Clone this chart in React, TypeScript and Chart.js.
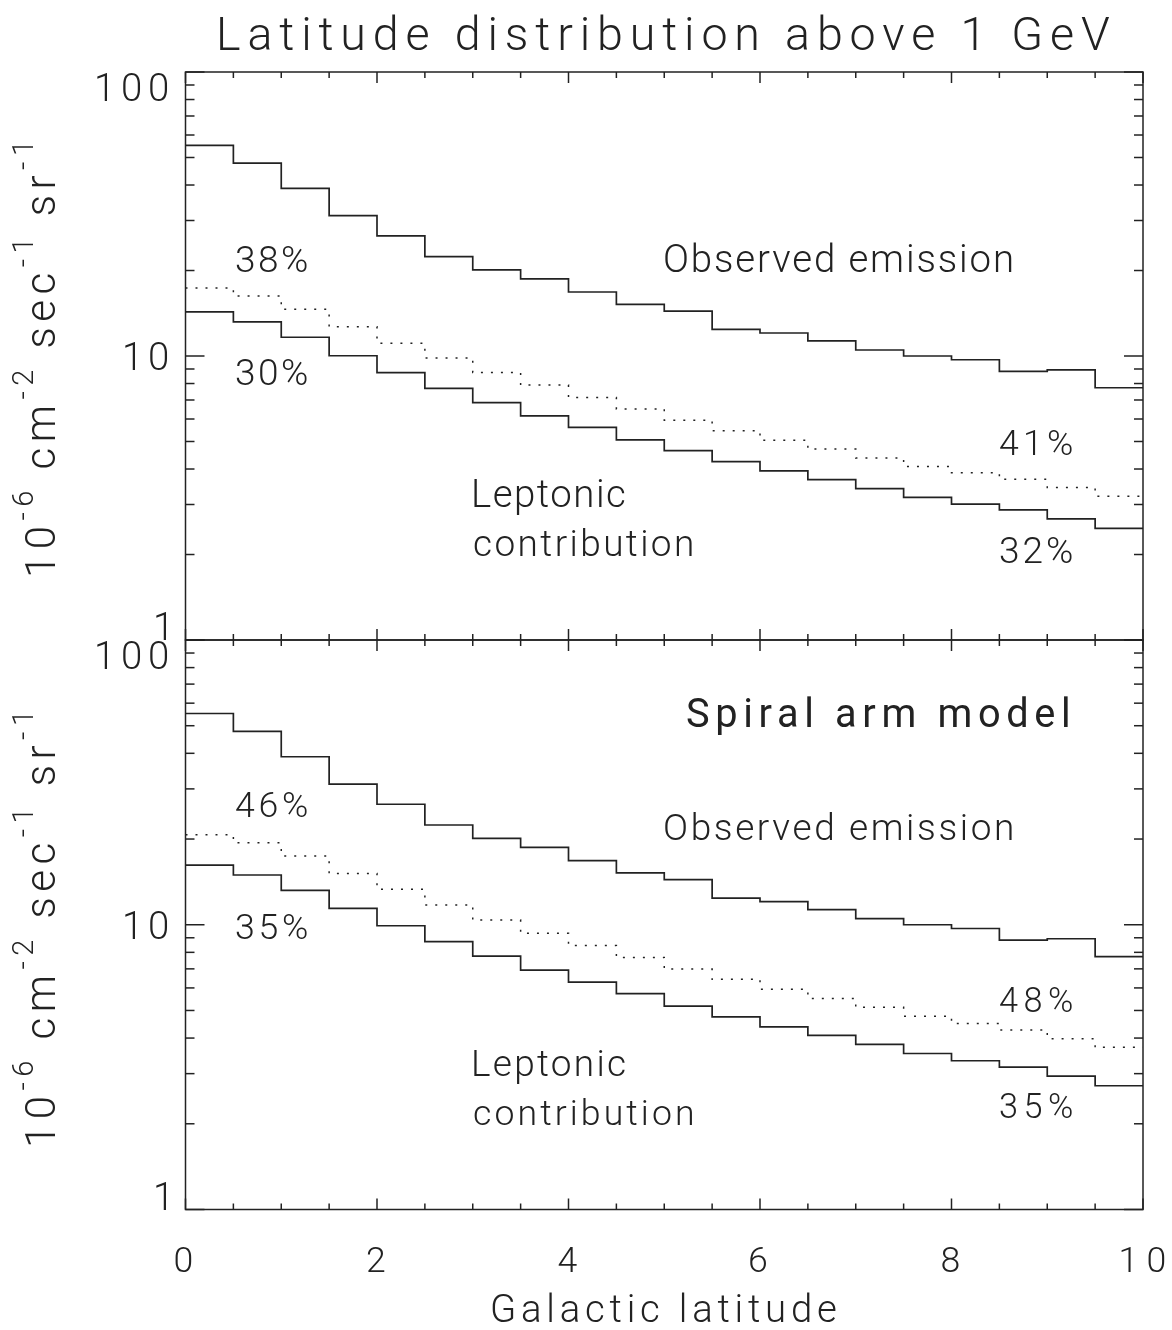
import { useEffect, useRef } from 'react';
import { Chart, registerables } from 'chart.js';

Chart.register(...registerables);

// ---------------- data ----------------
const latitudeEdges = [0, 0.5, 1, 1.5, 2, 2.5, 3, 3.5, 4, 4.5, 5, 5.5, 6, 6.5, 7, 7.5, 8, 8.5, 9, 9.5, 10];

const observedEmission = [55.2, 47.8, 38.9, 31.2, 26.5, 22.4, 20.1, 18.7, 16.8, 15.2, 14.4, 12.4, 12.05, 11.3, 10.5, 10.0, 9.7, 8.83, 8.93, 7.73];

const standardTotal = [17.35, 16.27, 14.6, 12.68, 11.1, 9.84, 8.74, 7.9, 7.15, 6.51, 5.94, 5.45, 5.05, 4.7, 4.37, 4.08, 3.88, 3.68, 3.44, 3.21];
const standardLeptonic = [14.29, 13.18, 11.64, 10.02, 8.74, 7.69, 6.85, 6.15, 5.61, 5.07, 4.64, 4.25, 3.94, 3.67, 3.41, 3.18, 3.01, 2.87, 2.67, 2.47];

const spiralTotal = [20.7, 19.4, 17.43, 15.15, 13.32, 11.73, 10.39, 9.33, 8.46, 7.68, 6.99, 6.43, 5.93, 5.51, 5.13, 4.77, 4.5, 4.27, 3.98, 3.71];
const spiralLeptonic = [16.2, 14.95, 13.2, 11.42, 9.92, 8.72, 7.76, 6.93, 6.29, 5.73, 5.18, 4.75, 4.38, 4.09, 3.8, 3.53, 3.33, 3.16, 2.94, 2.72];

const xTickLabels = ['0', '2', '4', '6', '8', '10'];
const yTickLabels = ['1', '10', '100'];

const titleText = 'Latitude distribution above 1 GeV';
const xAxisTitle = 'Galactic latitude';

// ---------------- layout / style ----------------
const W = 1172;
const H = 1330;
const PLOT_LEFT = 185.5;
const PLOT_RIGHT = 1143;
const INK = '#222';
const FONT = "Roboto, 'DejaVu Sans', sans-serif";
const LIGHT = '300';

type Note = { text: string; x1: number; x2: number; base: number; cap: number; weight?: string };

const topNotes: Note[] = [
  { text: '38%', x1: 236, x2: 307, base: 272, cap: 27 },
  { text: '30%', x1: 236, x2: 307, base: 385, cap: 27 },
  { text: 'Observed emission', x1: 665, x2: 1012, base: 272, cap: 28 },
  { text: 'Leptonic', x1: 474, x2: 625, base: 507, cap: 28 },
  { text: 'contribution', x1: 474, x2: 692, base: 556, cap: 27 },
  { text: '41%', x1: 1000, x2: 1072, base: 455, cap: 26 },
  { text: '32%', x1: 1000, x2: 1072, base: 563, cap: 27 },
];

const bottomNotes: Note[] = [
  { text: 'Spiral arm model', x1: 687, x2: 1068, base: 727, cap: 29, weight: '400' },
  { text: '46%', x1: 236, x2: 307, base: 817, cap: 26 },
  { text: 'Observed emission', x1: 665, x2: 1012, base: 840, cap: 27 },
  { text: '35%', x1: 236, x2: 307, base: 939, cap: 26 },
  { text: 'Leptonic', x1: 474, x2: 625, base: 1076, cap: 27 },
  { text: 'contribution', x1: 474, x2: 692, base: 1125, cap: 26 },
  { text: '48%', x1: 1000, x2: 1072, base: 1012, cap: 25 },
  { text: '35%', x1: 1000, x2: 1072, base: 1118, cap: 25 },
];

type Panel = {
  key: string;
  top: number;
  bottom: number;
  total: number[];
  leptonic: number[];
  notes: Note[];
  titleCenter: number;
  showXLabels: boolean;
  showTitle: boolean;
};

const panels: Panel[] = [
  { key: 'standard', top: 72, bottom: 640, total: standardTotal, leptonic: standardLeptonic, notes: topNotes, titleCenter: 359, showXLabels: false, showTitle: true },
  { key: 'spiral', top: 640, bottom: 1209.5, total: spiralTotal, leptonic: spiralLeptonic, notes: bottomNotes, titleCenter: 929, showXLabels: true, showTitle: false },
];

// ---------------- helpers ----------------
function toSteps(values: number[]) {
  return latitudeEdges.map((x, i) => ({ x, y: values[Math.min(i, values.length - 1)] }));
}

function sizeForCap(ctx: CanvasRenderingContext2D, cap: number, weight: string) {
  ctx.font = `${weight} 100px ${FONT}`;
  const m = ctx.measureText('H0');
  const ratio = m.actualBoundingBoxAscent / 100 || 0.71;
  return cap / ratio;
}

function drawFit(ctx: CanvasRenderingContext2D, text: string, x1: number, x2: number, base: number, cap: number, weight = LIGHT) {
  const size = sizeForCap(ctx, cap, weight);
  ctx.font = `${weight} ${size}px ${FONT}`;
  (ctx as any).letterSpacing = '0px';
  const m = ctx.measureText(text);
  const ink = m.actualBoundingBoxLeft + m.actualBoundingBoxRight;
  const n = Array.from(text).length;
  const ls = n > 1 ? (x2 - x1 - ink) / (n - 1) : 0;
  (ctx as any).letterSpacing = `${ls}px`;
  ctx.textAlign = 'left';
  ctx.textBaseline = 'alphabetic';
  ctx.fillText(text, x1 + m.actualBoundingBoxLeft, base);
  (ctx as any).letterSpacing = '0px';
}

function drawYTitle(ctx: CanvasRenderingContext2D, cy: number) {
  const segs: [string, boolean][] = [
    ['10', false], ['-6', true], [' cm', false], ['-2', true], [' sec', false], ['-1', true], [' sr', false], ['-1', true],
  ];
  const mainSize = 42;
  const supSize = 29;
  const baseX = 55;
  const raise = 22;
  const length = 438;
  ctx.save();
  ctx.translate(baseX, cy);
  ctx.rotate(-Math.PI / 2);
  (ctx as any).letterSpacing = '0px';
  let total = 0;
  let chars = 0;
  const widths = segs.map(([t, sup]) => {
    ctx.font = `${LIGHT} ${sup ? supSize : mainSize}px ${FONT}`;
    const w = ctx.measureText(t).width;
    total += w;
    chars += t.length;
    return w;
  });
  const ls = (length - total) / (chars - 1);
  let u = -length / 2;
  ctx.textAlign = 'left';
  ctx.textBaseline = 'alphabetic';
  segs.forEach(([t, sup], i) => {
    ctx.font = `${LIGHT} ${sup ? supSize : mainSize}px ${FONT}`;
    (ctx as any).letterSpacing = `${ls}px`;
    ctx.fillText(t, u, sup ? -raise : 0);
    u += widths[i] + ls * t.length;
  });
  (ctx as any).letterSpacing = '0px';
  ctx.restore();
}

function seg(ctx: CanvasRenderingContext2D, x1: number, y1: number, x2: number, y2: number) {
  ctx.beginPath();
  ctx.moveTo(x1, y1);
  ctx.lineTo(x2, y2);
  ctx.stroke();
}

function makePanelPlugin(panel: Panel) {
  return {
    id: 'panelDecor_' + panel.key,
    afterDraw(chart: any) {
      const ctx: CanvasRenderingContext2D = chart.ctx;
      const { left, right, top, bottom } = chart.chartArea;
      const xs = chart.scales.x;
      const ys = chart.scales.y;
      ctx.save();
      ctx.strokeStyle = INK;
      ctx.fillStyle = INK;
      ctx.lineWidth = 1.5;
      ctx.setLineDash([]);
      ctx.strokeRect(left, top, right - left, bottom - top);

      // x ticks (inward, top & bottom)
      for (let i = 0; i <= 20; i++) {
        const v = xs.min + i * 0.5;
        const px = xs.getPixelForValue(v);
        const len = i % 4 === 0 ? 11 : 6;
        seg(ctx, px, top, px, top + len);
        seg(ctx, px, bottom, px, bottom - len);
      }
      // y ticks (log, inward, left & right)
      const yVals: [number, boolean][] = [];
      for (let d = ys.min; d < ys.max; d *= 10) {
        for (let m = 1; m <= 9; m++) yVals.push([d * m, m === 1]);
      }
      yVals.push([ys.max, true]);
      yVals.forEach(([v, major]) => {
        const py = ys.getPixelForValue(v);
        const len = major ? 19 : 9;
        seg(ctx, left, py, left + len, py);
        seg(ctx, right, py, right - len, py);
      });

      // y tick labels
      const yCap = 28;
      yTickLabels.forEach((lab) => {
        const v = Number(lab);
        const py = ys.getPixelForValue(v);
        let base = py + yCap / 2;
        if (v >= ys.max) base = py + yCap + 1;
        else if (v <= ys.min) base = py;
        const xRight = 168;
        const n = lab.length;
        const width = n === 1 ? 12 : n === 2 ? 43 : 71;
        drawFit(ctx, lab, xRight - width, xRight, base, yCap);
      });

      // x tick labels
      if (panel.showXLabels) {
        xTickLabels.forEach((lab) => {
          const px = xs.getPixelForValue(Number(lab));
          const width = lab.length === 1 ? 20 : 43;
          drawFit(ctx, lab, px - width / 2, px + width / 2, 1272, 26);
        });
        drawFit(ctx, xAxisTitle, 492, 836, 1322, 28);
      }

      if (panel.showTitle) {
        drawFit(ctx, titleText, 220, 1110, 50, 34);
      }

      drawYTitle(ctx, panel.titleCenter);

      panel.notes.forEach((n) => drawFit(ctx, n.text, n.x1, n.x2, n.base, n.cap, n.weight || LIGHT));
      ctx.restore();
    },
  };
}

function makeChart(canvas: HTMLCanvasElement, panel: Panel) {
  const line = { borderColor: INK, pointRadius: 0, fill: false, stepped: 'before' as const, tension: 0 };
  return new Chart(canvas, {
    type: 'line',
    data: {
      datasets: [
        { ...line, label: 'Observed emission', data: toSteps(observedEmission), borderWidth: 1.7 },
        { ...line, label: 'Total model', data: toSteps(panel.total), borderWidth: 1.5, borderDash: [2, 8] },
        { ...line, label: 'Leptonic contribution', data: toSteps(panel.leptonic), borderWidth: 1.7 },
      ],
    },
    options: {
      animation: false,
      responsive: false,
      devicePixelRatio: 1,
      events: [],
      layout: { padding: { left: PLOT_LEFT, right: W - PLOT_RIGHT, top: panel.top, bottom: H - panel.bottom } },
      scales: {
        x: { type: 'linear', min: 0, max: 10, display: false },
        y: { type: 'logarithmic', min: 1, max: 100, display: false },
      },
      plugins: { legend: { display: false }, tooltip: { enabled: false }, title: { display: false } },
    },
    plugins: [makePanelPlugin(panel)],
  } as any);
}

export default function App() {
  const topRef = useRef<HTMLCanvasElement>(null);
  const botRef = useRef<HTMLCanvasElement>(null);
  useEffect(() => {
    const charts = [makeChart(topRef.current!, panels[0]), makeChart(botRef.current!, panels[1])];
    return () => charts.forEach((c) => c.destroy());
  }, []);
  const cs: any = { position: 'absolute', left: 0, top: 0, width: W, height: H };
  return (
    <div style={{ position: 'absolute', left: 0, top: 0, width: W, height: H, background: '#fff' }}>
      <canvas ref={topRef} width={W} height={H} style={cs} />
      <canvas ref={botRef} width={W} height={H} style={cs} />
    </div>
  );
}
